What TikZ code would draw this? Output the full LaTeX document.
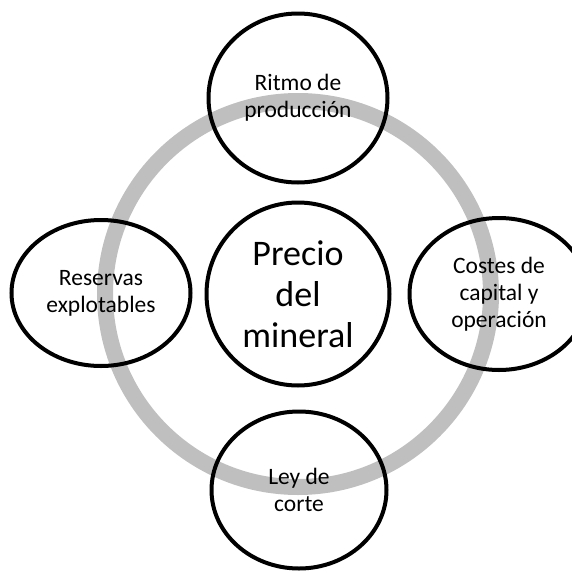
\documentclass[tikz,border=0pt]{standalone}
\usepackage{fontspec}
\setmainfont{Carlito}
\usetikzlibrary{shapes.geometric}
\definecolor{ringgray}{RGB}{191,191,191}
\begin{document}
\begin{tikzpicture}[x=1pt,y=-1pt,
  outer/.style={ellipse, draw=black, line width=4pt, inner sep=0pt, align=center,
    font=\fontsize{23.5}{27}\selectfont},
  hub/.style={ellipse, draw=black, fill=white, line width=4pt, inner sep=0pt, align=center,
    font=\fontsize{36}{41}\selectfont},
  ringstyle/.style={circle, draw=ringgray, line width=16pt, inner sep=0pt}]
\clip (0,0) rectangle (572,573);
\node[ringstyle, minimum size=386pt] (ring) at (298,294) {};
\node[hub, minimum width=183pt, minimum height=183pt] (center) at (298,294) {Precio\\del\\mineral};
\node[outer, minimum width=179pt, minimum height=169pt] (top) at (298,98) {Ritmo de\\producción};
\node[outer, minimum width=179pt, minimum height=146pt] (left) at (101,293) {Reservas\\explotables};
\node[outer, minimum width=179pt, minimum height=152pt] (right) at (499,294) {Costes de\\capital y\\operación};
\node[outer, minimum width=175pt, minimum height=157pt] (bottom) at (299,490) {Ley de\\corte};
\end{tikzpicture}
\end{document}
